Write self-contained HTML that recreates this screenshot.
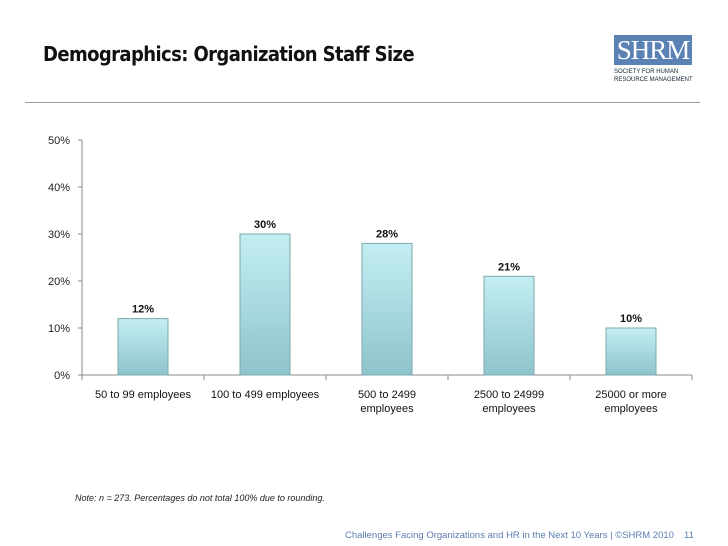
<!DOCTYPE html>
<html><head><meta charset="utf-8"><style>
body{margin:0;width:728px;height:546px;background:#fff;overflow:hidden;font-family:"Liberation Sans",sans-serif;position:relative}
</style></head><body>
<div style="position:absolute;left:43px;top:42px;font-size:20px;font-weight:bold;color:#111;font-family:'DejaVu Sans Condensed','Liberation Sans Narrow','Liberation Sans',sans-serif;letter-spacing:-0.6px">Demographics: Organization Staff Size</div>
<div style="position:absolute;left:614px;top:35px;width:90px;height:52px">
  <div style="width:78px;height:30px;background:#5b82b4;color:#fff;font-family:'Liberation Serif',serif;font-size:27px;line-height:31px;text-align:center;letter-spacing:-1px">SHRM</div>
  <div style="font-size:6px;line-height:8px;color:#123;margin-top:3px;white-space:nowrap">SOCIETY FOR HUMAN<br>RESOURCE MANAGEMENT</div>
</div>
<div style="position:absolute;left:25px;top:102px;width:675px;height:1px;background:#999"></div>
<svg id="chart" width="728" height="546" style="position:absolute;left:0;top:0">
<defs><linearGradient id="bg" x1="0" y1="0" x2="0" y2="1"><stop offset="0" stop-color="#c3eef3"/><stop offset="1" stop-color="#8ec4ca"/></linearGradient></defs>
</svg>
<div style="position:absolute;left:75px;top:493px;font-size:9px;font-style:italic;color:#222">Note: n = 273. Percentages do not total 100% due to rounding.</div>
<div style="position:absolute;left:345px;top:530px;font-size:9.5px;color:#5a7db0">Challenges Facing Organizations and HR in the Next 10 Years | ©SHRM 2010</div>
<div style="position:absolute;left:684px;top:530px;font-size:9.5px;color:#5a7db0">11</div>
<script>
const categories=[["50 to 99 employees"],["100 to 499 employees"],["500 to 2499","employees"],["2500 to 24999","employees"],["25000 or more","employees"]];
const values=[12,30,28,21,10];
const ticks=[0,10,20,30,40,50];
const svg=document.getElementById('chart');const NS='http://www.w3.org/2000/svg';
const x0=82,x1=692,y0=375,y1=140,maxV=50;
const y=v=>y0-(v/maxV)*(y0-y1);
const bw=(x1-x0)/categories.length;
const cx=i=>x0+bw*(i+0.5);
function mk(t,a){const e=document.createElementNS(NS,t);for(const k in a)e.setAttribute(k,a[k]);svg.appendChild(e);return e;}
let ax=mk('line',{x1:x0,y1:y1,x2:x0,y2:y0,stroke:'#888'});


let xa=mk('line',{x1:x0,y1:y0,x2:x1,y2:y0,stroke:'#888'});


ticks.forEach(t=>{
  mk('line',{x1:x0-4,y1:y(t),x2:x0,y2:y(t),stroke:'#888'});
  const l=mk('text',{x:x0-12,y:y(t)+4,'text-anchor':'end','font-size':11,fill:'#222'});l.textContent=t+'%';
  
  
});
for(let i=0;i<=categories.length;i++)mk('line',{x1:x0+bw*i,y1:y0,x2:x0+bw*i,y2:y0+5,stroke:'#888'});
values.forEach((v,i)=>{
  const r=mk('rect',{x:cx(i)-25,y:y(v),width:50,height:y0-y(v),fill:'url(#bg)',stroke:'#7aa9ae','stroke-width':1});
  
  
  const t=mk('text',{x:cx(i),y:y(v)-6,'text-anchor':'middle','font-size':11,'font-weight':'bold',fill:'#111'});t.textContent=v+'%';
  
  
  categories[i].forEach((s,j)=>{
    const c=mk('text',{x:cx(i),y:y0+23+j*14,'text-anchor':'middle','font-size':11,fill:'#111'});c.textContent=s;
    
    
  });
});
</script>
</body></html>
